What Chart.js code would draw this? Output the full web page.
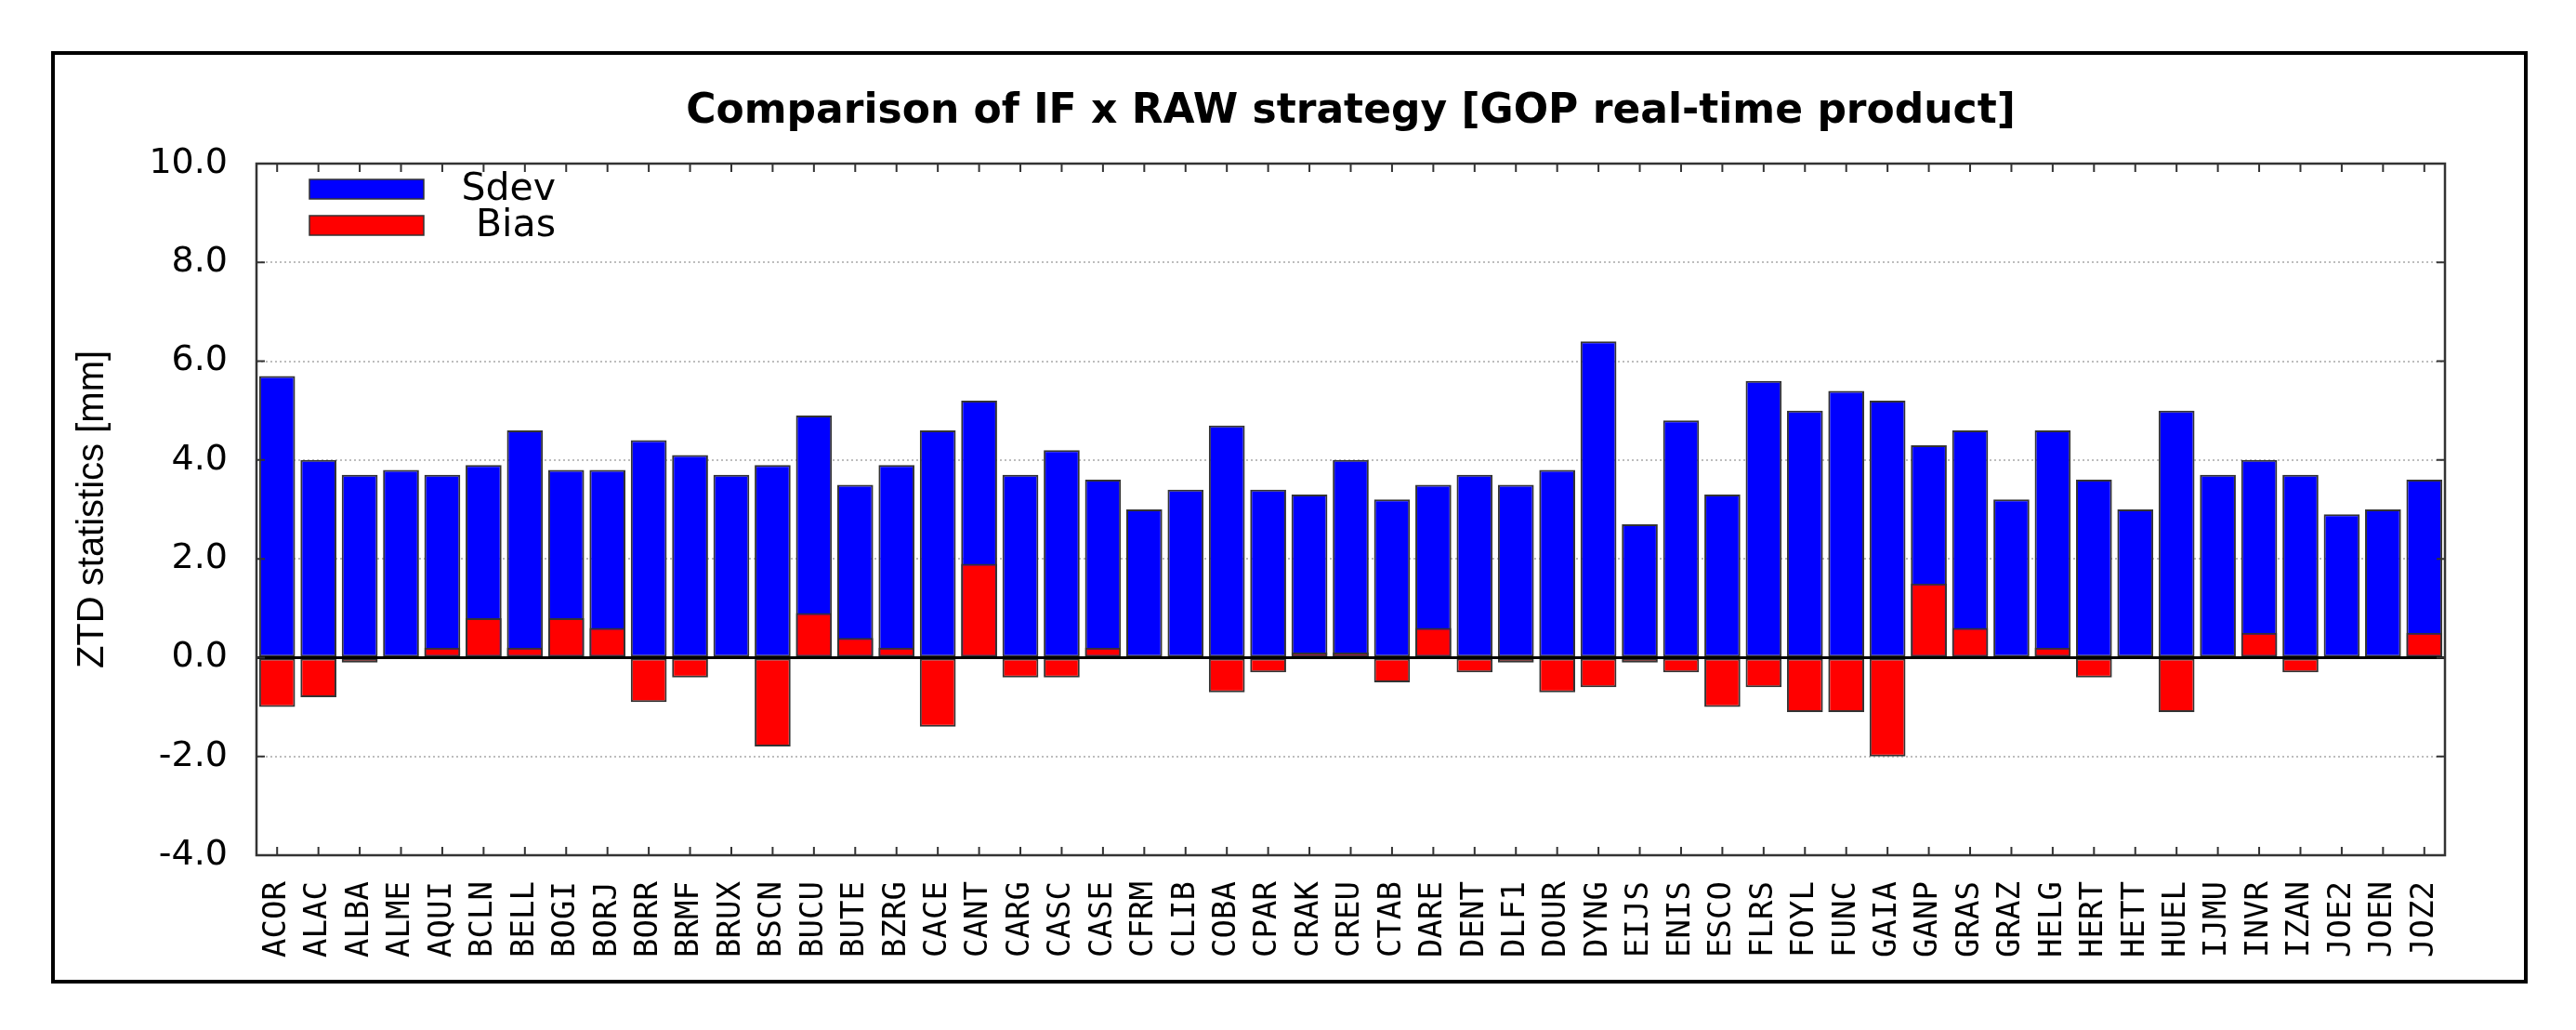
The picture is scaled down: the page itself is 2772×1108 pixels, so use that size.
<!DOCTYPE html>
<html>
<head>
<meta charset="utf-8">
<title>ZTD statistics</title>
<script src="https://cdn.jsdelivr.net/npm/chart.js@4.4.1/dist/chart.umd.min.js"></script>
<style>
  html, body { margin: 0; padding: 0; background: #fff; }
  #wrap { width: 2772px; height: 1108px; }
</style>
</head>
<body>
<div id="wrap"><canvas id="ztdChart" width="2772" height="1108"></canvas></div>
<script>
// data
const chartTitle = "Comparison of IF x RAW strategy [GOP real-time product]";
const yAxisTitle = "ZTD statistics [mm]";

const stations = [
  "ACOR", "ALAC", "ALBA", "ALME", "AQUI", "BCLN", "BELL", "BOGI", "BORJ", "BORR",
  "BRMF", "BRUX", "BSCN", "BUCU", "BUTE", "BZRG", "CACE", "CANT", "CARG", "CASC",
  "CASE", "CFRM", "CLIB", "COBA", "CPAR", "CRAK", "CREU", "CTAB", "DARE", "DENT",
  "DLF1", "DOUR", "DYNG", "EIJS", "ENIS", "ESCO", "FLRS", "FOYL", "FUNC", "GAIA",
  "GANP", "GRAS", "GRAZ", "HELG", "HERT", "HETT", "HUEL", "IJMU", "INVR", "IZAN",
  "JOE2", "JOEN", "JOZ2"
];

const sdev = [
  5.7, 4.0, 3.7, 3.8, 3.7, 3.9, 4.6, 3.8, 3.8, 4.4,
  4.1, 3.7, 3.9, 4.9, 3.5, 3.9, 4.6, 5.2, 3.7, 4.2,
  3.6, 3.0, 3.4, 4.7, 3.4, 3.3, 4.0, 3.2, 3.5, 3.7,
  3.5, 3.8, 6.4, 2.7, 4.8, 3.3, 5.6, 5.0, 5.4, 5.2,
  4.3, 4.6, 3.2, 4.6, 3.6, 3.0, 5.0, 3.7, 4.0, 3.7,
  2.9, 3.0, 3.6
];

const bias = [
  -1.0, -0.8, -0.1, 0.0, 0.2, 0.8, 0.2, 0.8, 0.6, -0.9,
  -0.4, 0.0, -1.8, 0.9, 0.4, 0.2, -1.4, 1.9, -0.4, -0.4,
  0.2, 0.0, 0.0, -0.7, -0.3, 0.1, 0.1, -0.5, 0.6, -0.3,
  -0.1, -0.7, -0.6, -0.1, -0.3, -1.0, -0.6, -1.1, -1.1, -2.0,
  1.5, 0.6, 0.0, 0.2, -0.4, 0.0, -1.1, 0.0, 0.5, -0.3,
  0.0, 0.0, 0.5
];

const yTicks = [-4, -2, 0, 2, 4, 6, 8, 10];

// frame, zero line, inward ticks, title and legend (gnuplot look)
const gnuplotLook = {
  id: "gnuplotLook",
  beforeDraw(chart) {
    const ctx = chart.ctx;
    ctx.save();
    ctx.fillStyle = "#fff";
    ctx.fillRect(0, 0, chart.width, chart.height);
    ctx.strokeStyle = "#000";
    ctx.lineWidth = 4;
    ctx.strokeRect(57, 57, 2661, 999);
    ctx.restore();
  },
  afterDatasetsDraw(chart) {
    const { ctx, chartArea: a, scales: { x, y } } = chart;
    ctx.save();
    const y0 = y.getPixelForValue(0);
    ctx.strokeStyle = "#000";
    ctx.lineWidth = 3;
    ctx.beginPath();
    ctx.moveTo(a.left, y0);
    ctx.lineTo(a.right, y0);
    ctx.stroke();

    ctx.strokeStyle = "#333";
    ctx.lineWidth = 2.5;
    ctx.strokeRect(a.left, a.top, a.right - a.left, a.bottom - a.top);

    const tl = 9;
    ctx.lineWidth = 2;
    ctx.beginPath();
    stations.forEach((s, i) => {
      const px = x.getPixelForValue(i);
      ctx.moveTo(px, a.top); ctx.lineTo(px, a.top + tl);
      ctx.moveTo(px, a.bottom); ctx.lineTo(px, a.bottom - tl);
    });
    y.ticks.forEach(t => {
      const py = y.getPixelForValue(t.value);
      ctx.moveTo(a.left, py); ctx.lineTo(a.left + tl, py);
      ctx.moveTo(a.right, py); ctx.lineTo(a.right - tl, py);
    });
    ctx.stroke();
    ctx.restore();
  },
  afterDraw(chart, args, opts) {
    const { ctx, chartArea: a } = chart;
    ctx.save();
    ctx.fillStyle = "#000";
    ctx.font = "bold 44px 'DejaVu Sans'";
    ctx.textAlign = "center";
    ctx.textBaseline = "alphabetic";
    ctx.fillText(opts.title, (a.left + a.right) / 2, 132);

    ctx.font = "41px 'DejaVu Sans'";
    ctx.textAlign = "right";
    ctx.textBaseline = "middle";
    chart.data.datasets.forEach((ds, i) => {
      const bx = a.left + 57, by = a.top + 17 + i * 39, bw = 123, bh = 21;
      ctx.fillStyle = ds.backgroundColor;
      ctx.fillRect(bx, by, bw, bh);
      ctx.strokeStyle = "#333";
      ctx.lineWidth = 1.5;
      ctx.strokeRect(bx, by, bw, bh);
      ctx.fillStyle = "#000";
      ctx.fillText(ds.label, a.left + 322, by + bh / 2 + 1);
    });
    ctx.restore();
  }
};

const ctx = document.getElementById("ztdChart").getContext("2d");
const ztdChart = new Chart(ctx, {
  type: "bar",
  data: {
    labels: stations,
    datasets: [
      {
        label: "Sdev",
        data: sdev,
        backgroundColor: "#0000ff",
        borderColor: "#333",
        borderWidth: 2,
        borderSkipped: false,
        grouped: false,
        order: 2,
        barPercentage: 0.87,
        categoryPercentage: 1.0
      },
      {
        label: "Bias",
        data: bias,
        backgroundColor: "#ff0000",
        borderColor: "#333",
        borderWidth: 2,
        borderSkipped: false,
        grouped: false,
        order: 1,
        barPercentage: 0.87,
        categoryPercentage: 1.0
      }
    ]
  },
  options: {
    responsive: false,
    animation: false,
    layout: { padding: { left: 0, right: 141, top: 176, bottom: 0 } },
    plugins: {
      legend: { display: false },
      title: { display: false },
      tooltip: { enabled: false },
      gnuplotLook: { title: chartTitle }
    },
    scales: {
      x: {
        grid: { display: false },
        border: { display: false },
        ticks: {
          autoSkip: false,
          maxRotation: 90,
          minRotation: 90,
          padding: 20,
          color: "#000",
          font: { family: "'DejaVu Sans Mono'", size: 34 }
        },
        afterFit: s => { s.height = 188; }
      },
      y: {
        min: yTicks[0],
        max: yTicks[yTicks.length - 1],
        afterBuildTicks: s => { s.ticks = yTicks.map(v => ({ value: v })); },
        grid: {
          drawTicks: false,
          lineWidth: 2,
          color: c => (c.tick && (c.tick.value === 0 || c.tick.value === yTicks[0] ||
            c.tick.value === yTicks[yTicks.length - 1])) ? "rgba(0,0,0,0)" : "#bdbdbd"
        },
        border: { display: false, dash: [2, 3] },
        ticks: {
          padding: 31,
          color: "#000",
          font: { family: "'DejaVu Sans'", size: 38 },
          callback: v => Number(v).toFixed(1)
        },
        title: {
          display: true,
          text: yAxisTitle,
          color: "#000",
          font: { family: "'Liberation Sans'", size: 40 },
          padding: { top: 76, bottom: 0 }
        },
        afterFit: s => { s.width = 276; }
      }
    }
  },
  plugins: [gnuplotLook]
});
</script>
</body>
</html>
